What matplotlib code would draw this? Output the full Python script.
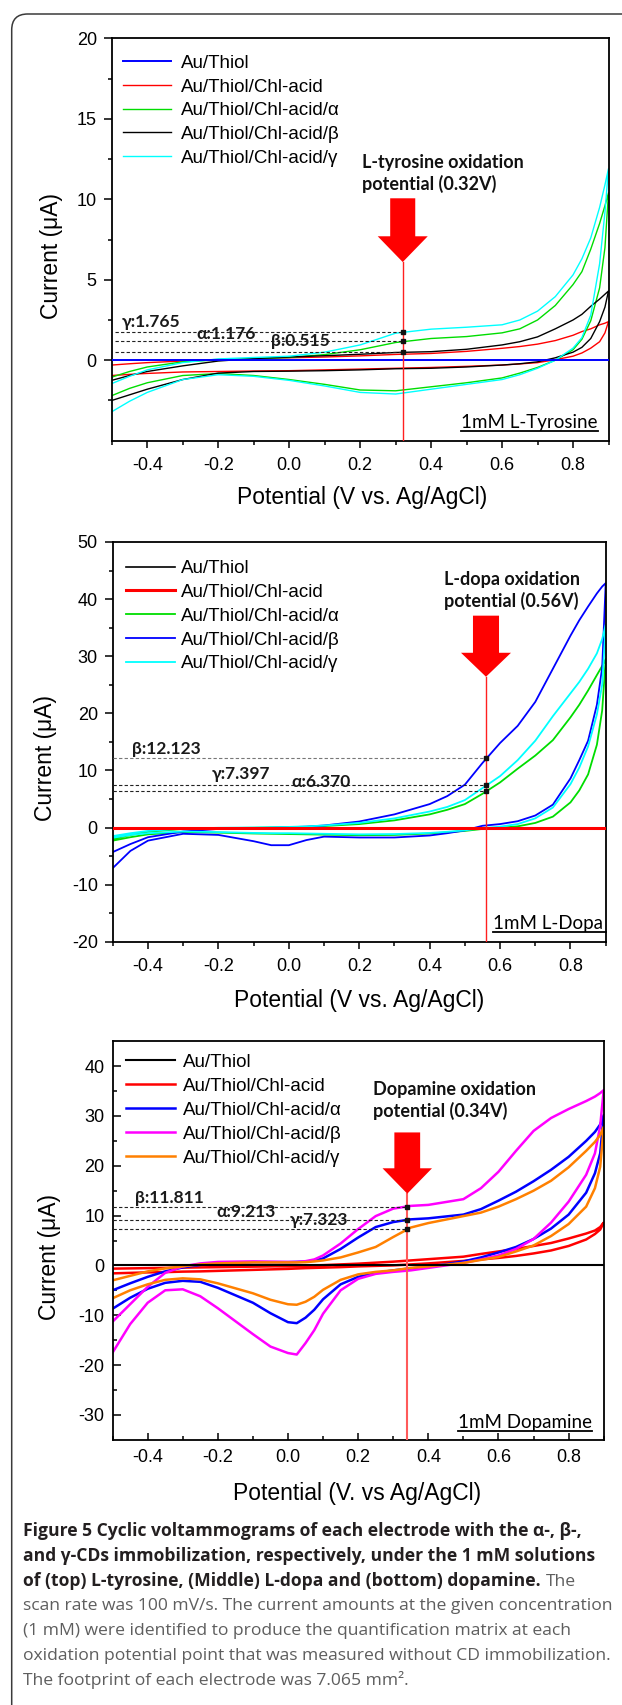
import matplotlib
matplotlib.use("Agg")
import matplotlib.pyplot as plt
from matplotlib.patches import FancyArrow, FancyBboxPatch
from matplotlib.lines import Line2D
from matplotlib.transforms import IdentityTransform

plt.rcParams['font.family'] = ['Liberation Sans', 'DejaVu Sans']
plt.rcParams['axes.unicode_minus'] = False

W, H, DPI = 622, 1705, 100
BOLDFAM = ['Lato', 'DejaVu Sans']
CAPFAM = ['Open Sans', 'DejaVu Sans']

# ---------------- shared ----------------
XTICKS = [-0.4, -0.2, 0.0, 0.2, 0.4, 0.6, 0.8]
XTICK_LABELS = ['-0.4', '-0.2', '0.0', '0.2', '0.4', '0.6', '0.8']
XMINOR = [-0.5, -0.3, -0.1, 0.1, 0.3, 0.5, 0.7, 0.9]
BASE_E = [-0.5, 0.9]
LABELS = ['Au/Thiol', 'Au/Thiol/Chl-acid', 'Au/Thiol/Chl-acid/α',
          'Au/Thiol/Chl-acid/β', 'Au/Thiol/Chl-acid/γ']

# ---------------- panel 1 : L-tyrosine ----------------
P1_E = [-0.5, -0.45, -0.4, -0.3, -0.2, -0.1, 0.0, 0.1, 0.2, 0.3, 0.4, 0.5, 0.6,
        0.65, 0.7, 0.75, 0.8, 0.825, 0.85, 0.875, 0.89, 0.9]
P1_THIOL = [0.0, 0.0]
P1_CHL_FWD = [-0.3, -0.22, -0.15, -0.05, 0.05, 0.1, 0.15, 0.2, 0.27, 0.36, 0.42, 0.55,
              0.74, 0.85, 1.0, 1.22, 1.55, 1.78, 1.95, 2.2, 2.3, 2.4]
P1_CHL_REV = [-0.95, -0.88, -0.82, -0.73, -0.7, -0.67, -0.65, -0.6, -0.55, -0.5, -0.45,
              -0.38, -0.3, -0.23, -0.15, 0.03, 0.25, 0.45, 0.75, 1.15, 1.7, 2.4]
P1_A_FWD = [-1.05, -0.7, -0.42, -0.1, 0.02, 0.1, 0.17, 0.35, 0.65, 1.1, 1.35, 1.47, 1.7,
            1.95, 2.5, 3.4, 4.7, 5.5, 6.9, 8.5, 9.6, 10.4]
P1_A_REV = [-2.2, -1.75, -1.4, -0.95, -0.83, -0.95, -1.2, -1.5, -1.85, -1.9, -1.65, -1.4,
            -1.1, -0.8, -0.45, 0.0, 0.65, 1.3, 2.45, 4.5, 7.0, 10.4]
P1_B_FWD = [-1.25, -0.95, -0.7, -0.35, -0.05, 0.1, 0.2, 0.28, 0.37, 0.48, 0.53, 0.68,
            0.95, 1.15, 1.45, 1.95, 2.5, 2.85, 3.35, 3.8, 4.1, 4.3]
P1_B_REV = [-2.5, -2.15, -1.8, -1.2, -0.8, -0.7, -0.68, -0.65, -0.6, -0.53, -0.5, -0.42,
            -0.3, -0.22, -0.1, 0.15, 0.5, 0.8, 1.35, 2.4, 3.3, 4.3]
P1_G_FWD = [-1.45, -1.0, -0.6, -0.15, 0.08, 0.17, 0.25, 0.5, 0.95, 1.68, 1.93, 2.05, 2.2,
            2.5, 3.05, 3.95, 5.3, 6.3, 7.6, 9.5, 10.9, 11.9]
P1_G_REV = [-3.2, -2.55, -2.0, -1.2, -0.9, -1.0, -1.25, -1.6, -2.0, -2.1, -1.8, -1.5,
            -1.2, -0.9, -0.5, 0.0, 0.75, 1.4, 2.8, 6.0, 9.2, 11.9]
P1_COLORS = ['#0000ff', '#ff0000', '#00dd00', '#000000', '#00ffff']
P1_POT = 0.32
P1_VALUES = {'γ': 1.765, 'α': 1.176, 'β': 0.515}

# ---------------- panel 2 : L-dopa ----------------
P2_E = [-0.5, -0.45, -0.4, -0.3, -0.2, -0.1, -0.05, 0.0, 0.05, 0.1, 0.2, 0.3, 0.4, 0.45,
        0.5, 0.55, 0.6, 0.65, 0.7, 0.75, 0.8, 0.825, 0.85, 0.875, 0.89, 0.9]
P2_THIOL = [0.0, 0.0]
P2_CHL = [0.0, 0.0]
P2_A_FWD = [-2.0, -1.3, -0.75, -0.25, -0.1, -0.05, 0.0, 0.05, 0.1, 0.25, 0.6, 1.25, 2.3,
            3.1, 4.1, 5.9, 7.9, 10.3, 12.6, 15.3, 19.3, 21.5, 24.0, 26.7, 28.3, 29.5]
P2_A_REV = [-2.3, -1.7, -1.2, -0.8, -0.9, -1.05, -1.1, -1.15, -1.2, -1.25, -1.35, -1.3,
            -1.05, -0.85, -0.6, -0.25, -0.05, 0.2, 0.8, 1.9, 4.4, 6.5, 9.3, 14.5, 20.5, 29.5]
P2_B_FWD = [-4.3, -2.9, -1.7, -0.7, -0.25, -0.1, -0.05, 0.05, 0.15, 0.35, 1.05, 2.3, 4.1,
            5.5, 7.5, 11.3, 14.8, 17.8, 22.0, 27.8, 33.6, 36.3, 38.7, 41.0, 42.2, 42.8]
P2_B_REV = [-7.1, -4.1, -2.3, -1.1, -1.3, -2.4, -3.1, -3.1, -2.2, -1.6, -1.75, -1.75,
            -1.4, -1.0, -0.5, 0.3, 0.6, 1.1, 2.1, 4.0, 8.6, 11.8, 15.2, 21.5, 28.0, 42.8]
P2_G_FWD = [-1.5, -1.0, -0.6, -0.2, -0.05, 0.0, 0.05, 0.1, 0.2, 0.35, 0.8, 1.6, 2.8, 3.6,
            4.8, 6.9, 9.0, 11.8, 15.2, 19.5, 23.5, 25.5, 27.8, 30.5, 33.0, 35.5]
P2_G_REV = [-1.8, -1.3, -1.0, -0.7, -0.8, -0.95, -1.0, -1.0, -1.05, -1.1, -1.2, -1.15,
            -0.95, -0.75, -0.5, -0.1, 0.15, 0.6, 1.6, 3.5, 7.6, 10.5, 14.2, 19.8, 25.0, 35.5]
P2_COLORS = ['#000000', '#ff0000', '#00dd00', '#0000ff', '#00ffff']
P2_POT = 0.56
P2_VALUES = {'β': 12.123, 'γ': 7.397, 'α': 6.370}

# ---------------- panel 3 : dopamine ----------------
P3_E = [-0.5, -0.45, -0.4, -0.35, -0.3, -0.25, -0.2, -0.1, -0.05, 0.0, 0.025, 0.05, 0.075,
        0.1, 0.15, 0.2, 0.25, 0.3, 0.35, 0.4, 0.5, 0.55, 0.6, 0.65, 0.7, 0.75, 0.8, 0.85,
        0.875, 0.89, 0.9]
P3_THIOL = [0.0, 0.0]
P3_CHL_FWD = [-0.65, -0.6, -0.55, -0.5, -0.45, -0.4, -0.35, -0.25, -0.2, -0.15, -0.1,
              -0.05, 0.0, 0.05, 0.2, 0.35, 0.55, 0.75, 1.0, 1.25, 1.75, 2.3, 2.8, 3.3, 3.9,
              4.5, 5.4, 6.4, 7.0, 7.7, 8.6]
P3_CHL_REV = [-1.6, -1.5, -1.4, -1.35, -1.25, -1.2, -1.1, -0.9, -0.8, -0.7, -0.62, -0.55,
              -0.5, -0.45, -0.35, -0.2, -0.1, 0.0, 0.2, 0.4, 0.9, 1.2, 1.5, 1.9, 2.4, 3.0,
              3.9, 5.2, 6.3, 7.2, 8.6]
P3_A_FWD = [-5.0, -3.6, -2.3, -1.2, -0.4, 0.1, 0.4, 0.65, 0.65, 0.65, 0.7, 0.75, 1.0, 1.4,
            3.3, 5.6, 7.7, 8.7, 9.25, 9.45, 10.2, 11.3, 13.0, 14.8, 16.9, 19.2, 21.8, 25.0,
            26.8, 28.3, 30.2]
P3_A_REV = [-8.7, -6.5, -4.7, -3.5, -3.1, -3.3, -4.5, -7.5, -9.6, -11.4, -11.6, -10.5,
            -8.9, -6.8, -3.8, -2.3, -1.5, -1.0, -0.6, -0.3, 0.8, 1.6, 2.6, 3.7, 5.3, 7.4,
            10.2, 14.6, 18.5, 22.5, 30.2]
P3_B_FWD = [-11.3, -7.8, -4.3, -1.5, -0.2, 0.4, 0.7, 0.8, 0.75, 0.7, 0.7, 0.85, 1.2, 2.0,
            4.4, 7.3, 9.9, 11.4, 11.95, 12.15, 13.3, 15.5, 18.8, 23.0, 27.0, 29.6, 31.4,
            33.0, 33.9, 34.6, 35.2]
P3_B_REV = [-17.5, -11.8, -7.5, -5.0, -4.8, -6.2, -8.6, -13.8, -16.3, -17.6, -17.9, -15.6,
            -13.0, -9.7, -5.0, -2.7, -1.7, -1.3, -1.0, -0.5, 0.5, 1.2, 2.0, 3.3, 5.3, 8.6,
            12.8, 18.2, 22.5, 28.0, 35.2]
P3_G_FWD = [-3.0, -2.1, -1.2, -0.6, -0.2, 0.2, 0.4, 0.6, 0.6, 0.6, 0.6, 0.65, 0.8, 1.0,
            1.6, 2.6, 3.7, 5.7, 7.6, 8.5, 9.9, 10.6, 11.8, 13.3, 15.0, 17.0, 19.7, 23.0,
            24.8, 26.2, 27.8]
P3_G_REV = [-6.6, -5.0, -3.8, -2.9, -2.6, -2.8, -3.6, -5.6, -6.9, -7.8, -7.9, -7.3, -6.3,
            -4.9, -2.9, -1.8, -1.3, -1.0, -0.5, -0.2, 0.5, 1.1, 1.7, 2.8, 4.0, 5.9, 8.3,
            11.8, 15.5, 19.8, 27.8]
P3_COLORS = ['#000000', '#ff0000', '#0000ff', '#ff00ff', '#ff8000']
P3_POT = 0.34
P3_VALUES = {'β': 11.811, 'α': 9.213, 'γ': 7.323}

CAPTION_BOLD = ['Figure 5 Cyclic voltammograms of each electrode with the α-, β-,',
                'and γ-CDs immobilization, respectively, under the 1 mM solutions',
                'of (top) L-tyrosine, (Middle) L-dopa and (bottom) dopamine.']
CAPTION_REG = ['The',
               'scan rate was 100 mV/s. The current amounts at the given concentration',
               '(1 mM) were identified to produce the quantification matrix at each',
               'oxidation potential point that was measured without CD immobilization.',
               'The footprint of each electrode was 7.065 mm².']

# ---------------- helpers ----------------
fig = plt.figure(figsize=(W / DPI, H / DPI), dpi=DPI)


def add_axes_px(l, t, r, b):
    return fig.add_axes([l / W, 1 - b / H, (r - l) / W, (b - t) / H])


def cv(ax, E, fwd, rev, **kw):
    x = list(E) + list(E)[::-1]
    y = list(fwd) + list(rev)[::-1]
    return ax.plot(x, y, **kw)[0]


def style(ax, ylim, yticks, yminor, direction, ylpad, xlpad):
    ax.set_xlim(-0.5, 0.9)
    ax.set_ylim(*ylim)
    ax.set_xticks(XTICKS)
    ax.set_xticklabels(XTICK_LABELS)
    ax.set_xticks(XMINOR, minor=True)
    ax.set_yticks(yticks)
    ax.set_yticklabels([str(v) for v in yticks])
    ax.set_yticks(yminor, minor=True)
    ax.tick_params(which='both', direction=direction, top=False, right=False,
                   width=1.1, labelsize=13)
    ax.tick_params(axis='y', which='major', length=5.8, pad=ylpad)
    ax.tick_params(axis='y', which='minor', length=3.2)
    ax.tick_params(axis='x', which='major', length=5.2, pad=xlpad)
    ax.tick_params(axis='x', which='minor', length=3.0)
    for s in ax.spines.values():
        s.set_linewidth(1.3)


def manual_legend(ax, box, handles, hx0, hx1, tx, row0, pitch, fs=13.5):
    """box = (left, top, right, bottom) of axes in px; handles = list of Line2D."""
    l, t, r, b = box
    fx = lambda px: (px - l) / (r - l)
    fy = lambda py: 1 - (py - t) / (b - t)
    cap = 0.716 * fs * DPI / 72.0
    for i, (hd, lab) in enumerate(zip(handles, LABELS)):
        yc = row0 + i * pitch
        ax.add_line(Line2D([fx(hx0), fx(hx1)], [fy(yc), fy(yc)], transform=ax.transAxes,
                           color=hd.get_color(), lw=hd.get_linewidth(), clip_on=False))
        ax.text(fx(tx), fy(yc + cap / 2), lab, transform=ax.transAxes, ha='left',
                va='baseline', fontsize=fs)


def marker_lines(ax, pot, values, labels_pos, x0, dash_colors):
    for key, v in values.items():
        ax.plot([x0, pot], [v, v], color=dash_colors.get(key, '#222222'),
                ls=(0, (3, 2)), lw=0.8, zorder=4)
        ax.plot([pot], [v], 's', ms=2.6, color='#111111', zorder=5)
        lx, ly = labels_pos[key]
        ax.text(lx, ly, '%s:%s' % (key, ('%.3f' % v)), ha='left', va='center',
                fontsize=12.5, fontweight='bold', family=BOLDFAM, color='#1a1a1a', zorder=6)


def arrow(ax, pot, top, tip, hl, w, hw, ybot, lw, color):
    ax.add_patch(FancyArrow(pot, top, 0, tip - top, width=w, head_width=hw,
                            head_length=hl, length_includes_head=True,
                            color='#ff0000', lw=0, zorder=6))
    ax.plot([pot, pot], [tip, ybot], color=color, lw=lw, zorder=5)


underlines = []
ANN_FS = 13

# ================= panel 1 =================
BOX1 = (111.8, 38.3, 608.5, 440.7)
ax1 = add_axes_px(*BOX1)
style(ax1, (-5, 20), [0, 5, 10, 15, 20], [-2.5, 2.5, 7.5, 12.5, 17.5], 'out', 5, 6.5)
h = []
h.append(ax1.plot(BASE_E, P1_THIOL, color=P1_COLORS[0], lw=1.4, zorder=3)[0])
h.append(cv(ax1, P1_E, P1_CHL_FWD, P1_CHL_REV, color=P1_COLORS[1], lw=1.0, zorder=2))
h.append(cv(ax1, P1_E, P1_A_FWD, P1_A_REV, color=P1_COLORS[2], lw=1.0, zorder=2))
h.append(cv(ax1, P1_E, P1_B_FWD, P1_B_REV, color=P1_COLORS[3], lw=1.0, zorder=2))
h.append(cv(ax1, P1_E, P1_G_FWD, P1_G_REV, color=P1_COLORS[4], lw=1.0, zorder=2))
manual_legend(ax1, BOX1, h, 123, 171, 181, 61.0, 23.8)
arrow(ax1, P1_POT, 10.06, 6.1, 1.6, 0.0706, 0.141, -5, 1.0, '#ff2020')
marker_lines(ax1, P1_POT, P1_VALUES,
             {'γ': (-0.472, 2.38), 'α': (-0.262, 1.66), 'β': (-0.051, 1.22)}, -0.49, {})
ax1.text(0.504, 0.665, 'L-tyrosine oxidation\npotential (0.32V)', transform=ax1.transAxes,
         ha='left', va='center', fontsize=ANN_FS, fontweight='bold', family=BOLDFAM,
         linespacing=1.25, color='#111111')
t1 = ax1.text(0.978, 0.0447, '1mM L-Tyrosine', transform=ax1.transAxes, ha='right',
              va='center', fontsize=13.5, family=BOLDFAM)
underlines.append((ax1, t1, 0.024, None))
ax1.set_ylabel('Current (μA)', fontsize=16.5, ha='center', va='center')
ax1.yaxis.set_label_coords(-0.121, 0.459)
ax1.set_xlabel('Potential (V vs. Ag/AgCl)', fontsize=16.5, va='center')
ax1.xaxis.set_label_coords(0.503, -0.142)

# ================= panel 2 =================
BOX2 = (112.8, 542.0, 605.7, 941.7)
ax2 = add_axes_px(*BOX2)
style(ax2, (-20, 50), [-20, -10, 0, 10, 20, 30, 40, 50],
      [-15, -5, 5, 15, 25, 35, 45], 'out', 5, 6.5)
h = []
h.append(ax2.plot(BASE_E, P2_THIOL, color=P2_COLORS[0], lw=1.2, zorder=3)[0])
h.append(ax2.plot(BASE_E, P2_CHL, color=P2_COLORS[1], lw=2.2, zorder=3)[0])
h.append(cv(ax2, P2_E, P2_A_FWD, P2_A_REV, color=P2_COLORS[2], lw=1.3, zorder=2))
h.append(cv(ax2, P2_E, P2_B_FWD, P2_B_REV, color=P2_COLORS[3], lw=1.3, zorder=2))
h.append(cv(ax2, P2_E, P2_G_FWD, P2_G_REV, color=P2_COLORS[4], lw=1.3, zorder=2))
manual_legend(ax2, BOX2, h, 126, 174.5, 180.5, 566.7, 23.7)
arrow(ax2, P2_POT, 37.1, 26.4, 4.2, 0.074, 0.142, -20, 1.0, '#ff2020')
marker_lines(ax2, P2_POT, P2_VALUES,
             {'β': (-0.445, 13.8), 'γ': (-0.22, 9.3), 'α': (0.007, 8.0)}, -0.5,
             {'β': '#777777'})
ax2.text(0.671, 0.879, 'L-dopa oxidation\npotential (0.56V)', transform=ax2.transAxes,
         ha='left', va='center', fontsize=ANN_FS, fontweight='bold', family=BOLDFAM,
         linespacing=1.25, color='#111111')
t2 = ax2.text(0.995, 0.046, '1mM L-Dopa', transform=ax2.transAxes, ha='right',
              va='center', fontsize=13.5, family=BOLDFAM)
underlines.append((ax2, t2, 0.0235, 1.0))
ax2.set_ylabel('Current (μA)', fontsize=16.5, ha='center', va='center')
ax2.yaxis.set_label_coords(-0.136, 0.46)
ax2.set_xlabel('Potential (V vs. Ag/AgCl)', fontsize=16.5, va='center')
ax2.xaxis.set_label_coords(0.5, -0.146)

# ================= panel 3 =================
BOX3 = (112.6, 1041.3, 603.7, 1439.7)
ax3 = add_axes_px(*BOX3)
style(ax3, (-35, 45), [-30, -20, -10, 0, 10, 20, 30, 40],
      [-25, -15, -5, 5, 15, 25, 35], 'in', 6, 6.5)
h = []
h.append(ax3.plot(BASE_E, P3_THIOL, color=P3_COLORS[0], lw=1.5, zorder=3)[0])
h.append(cv(ax3, P3_E, P3_CHL_FWD, P3_CHL_REV, color=P3_COLORS[1], lw=1.8, zorder=2))
h.append(cv(ax3, P3_E, P3_A_FWD, P3_A_REV, color=P3_COLORS[2], lw=1.8, zorder=2))
h.append(cv(ax3, P3_E, P3_B_FWD, P3_B_REV, color=P3_COLORS[3], lw=1.8, zorder=2))
h.append(cv(ax3, P3_E, P3_G_FWD, P3_G_REV, color=P3_COLORS[4], lw=1.8, zorder=2))
manual_legend(ax3, BOX3, h, 126, 174.5, 182.5, 1060.4, 23.85)
arrow(ax3, P3_POT, 26.7, 14.4, 5.1, 0.0735, 0.141, -35, 1.5, '#ff5a5a')
marker_lines(ax3, P3_POT, P3_VALUES,
             {'β': (-0.436, 13.56), 'α': (-0.205, 10.75), 'γ': (0.004, 9.2)}, -0.5, {})
ax3.text(0.530, 0.852, 'Dopamine oxidation\npotential (0.34V)', transform=ax3.transAxes,
         ha='left', va='center', fontsize=ANN_FS, fontweight='bold', family=BOLDFAM,
         linespacing=1.25, color='#111111')
t3 = ax3.text(0.977, 0.0427, '1mM Dopamine', transform=ax3.transAxes, ha='right',
              va='center', fontsize=13.5, family=BOLDFAM)
underlines.append((ax3, t3, 0.0213, None))
ax3.set_ylabel('Current (μA)', fontsize=16.5, ha='center', va='center')
ax3.yaxis.set_label_coords(-0.128, 0.458)
ax3.set_xlabel('Potential (V. vs Ag/AgCl)', fontsize=16.5, va='center')
ax3.xaxis.set_label_coords(0.497, -0.134)

# ================= caption =================
CAP_X = 23.3
CAP_BASE = [1536.0, 1560.8, 1585.6, 1610.4, 1635.2, 1660.0, 1684.8]
BOLD_COL = '#231f20'
REG_COL = '#5e5e5e'
renderer = fig.canvas.get_renderer()


def fit_size(sample, target_px, weight):
    t = fig.text(0, 0, sample, fontsize=10, family=CAPFAM, fontweight=weight)
    w = t.get_window_extent(renderer).width
    t.remove()
    return 10.0 * target_px / w


BOLD_FS = fit_size('Figure 5 Cyclic voltammograms of each electrode with', 473, 'bold')
REG_FS = fit_size(CAPTION_REG[1], 591, 'normal')

caps = []
for i, line in enumerate(CAPTION_BOLD):
    caps.append(fig.text(CAP_X / W, 1 - CAP_BASE[i] / H, line, fontsize=BOLD_FS,
                         fontweight='bold', family=CAPFAM, color=BOLD_COL,
                         ha='left', va='baseline'))
for j, line in enumerate(CAPTION_REG[1:]):
    fig.text(CAP_X / W, 1 - CAP_BASE[3 + j] / H, line, fontsize=REG_FS,
             family=CAPFAM, color=REG_COL, ha='left', va='baseline')

# frame
frame = FancyBboxPatch((11.7, -40), 720, H - 14 + 40,
                       boxstyle='round,pad=0,rounding_size=16',
                       transform=IdentityTransform(), fill=False, ec='#3a3a3a', lw=1.1)
fig.add_artist(frame)

fig.canvas.draw()
r = fig.canvas.get_renderer()
bb = caps[2].get_window_extent(r)
fig.text((bb.x1 + 5.0) / W, 1 - CAP_BASE[2] / H, CAPTION_REG[0], fontsize=REG_FS,
         family=CAPFAM, color=REG_COL, ha='left', va='baseline')
for ax, t, uy, xr in underlines:
    b = t.get_window_extent(r)
    inv = ax.transAxes.inverted()
    xa = inv.transform((b.x0, b.y0))[0]
    xb = inv.transform((b.x1, b.y0))[0] if xr is None else xr
    ax.add_line(Line2D([xa, xb], [uy, uy], transform=ax.transAxes, color='k', lw=1.3,
                       clip_on=False))

fig.savefig('out.png', dpi=DPI)
